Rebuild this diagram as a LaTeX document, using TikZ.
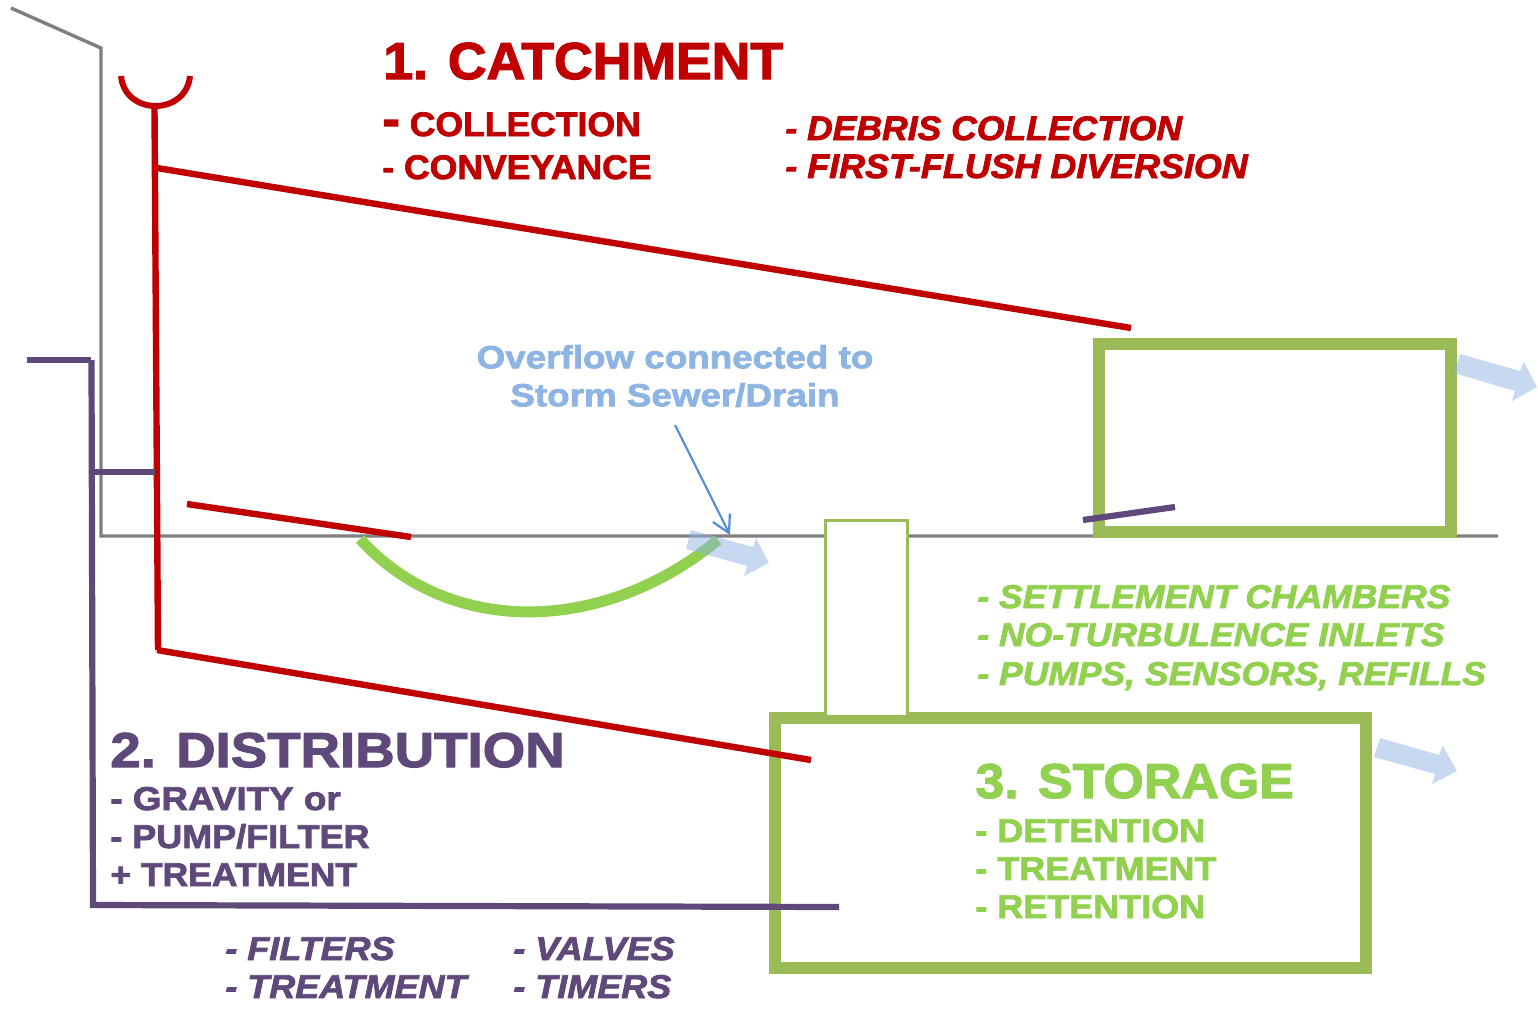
\documentclass[tikz,border=0pt]{standalone}
\usepackage{fontspec}
\usetikzlibrary{arrows.meta}
\setmainfont{Liberation Sans}
\newcommand\mkfam[2]{\newfontfamily#1{Liberation Sans}[BoldFeatures={FakeStretch=#2,FakeBold=2.3},BoldItalicFeatures={FakeStretch=#2,FakeBold=2.3}]}
\mkfam\FamA{1.03}
\mkfam\FamB{1.045}
\mkfam\FamC{1.055}
\mkfam\FamD{1.075}
\mkfam\FamE{1.09}
\mkfam\FamF{1.115}
\mkfam\FamG{1.15}
\mkfam\FamH{1.06}
\definecolor{cred}{HTML}{C00000}
\definecolor{cpurple}{HTML}{5F497A}
\definecolor{colive}{HTML}{9BBB59}
\definecolor{clime}{HTML}{92D050}
\definecolor{cblue}{HTML}{8DB4E2}
\definecolor{cline}{HTML}{558ED5}
\definecolor{cgrey}{HTML}{7F7F7F}
\tikzset{
 txt/.style n args={2}{anchor=base west,inner sep=0pt,font=#2\bfseries\fontsize{#1}{#1}\selectfont},
 itx/.style n args={2}{anchor=base west,inner sep=0pt,font=#2\bfseries\itshape\fontsize{#1}{#1}\selectfont},
 flow/.style={fill=cblue,fill opacity=0.5,draw=none},
 redline/.style={cred,line width=3.2pt},
 purpleline/.style={cpurple,line width=3.1pt},
 tankwall/.style={colive,line width=6pt},
}
\begin{document}
\begin{tikzpicture}[x=0.5pt,y=-0.5pt]
\useasboundingbox (0,0) rectangle (1538,1009);
% grey building + ground
\draw[cgrey,line width=1.7pt] (11,8) -- (101,48) -- (101,536) -- (1498,536);
% storage
\draw[tankwall] (1099,344) rectangle (1451,532);
\draw[tankwall] (775,717.5) rectangle (1365.5,968);
\draw[colive,line width=1.5pt,fill=white] (825,520) rectangle (907,716);
% green swale
\draw[clime,line width=5.5pt] (360,539) .. controls (448,636) and (601,636) .. (718,540);
% blue flow arrows
\fill[flow] (1460,354) -- (1520,371) -- (1524,362) -- (1537,387) -- (1512,401) -- (1515,391) -- (1454,373) -- cycle;
\fill[flow] (1380,738) -- (1439,755) -- (1443,746) -- (1457,771) -- (1432,784) -- (1435,774) -- (1374,757) -- cycle;
\fill[flow] (691,530) -- (753,547) -- (756,538) -- (769,563) -- (744,576) -- (747,566) -- (686,549) -- cycle;
% red
\draw[redline] (154.5,108) -- (158,650);
\draw[cred,line width=3pt] (121,76) .. controls (125,116) and (186,116) .. (190,76);
\draw[redline] (157,168) -- (1131,328);
\draw[redline] (187,504) -- (411,537);
\draw[redline] (157,650) -- (811,760);
% purple
\draw[purpleline] (27,360) -- (91,360);
\draw[purpleline] (91.5,360) -- (93,905) -- (839,907);
\draw[purpleline] (92,472) -- (155,472);
\draw[purpleline] (1083,520) -- (1175,507);
% callout
\coordinate (cs) at (675,425); \coordinate (ce) at (730,535);
\draw[cline,line width=1.1pt,-{Straight Barb[length=8.5pt,width=9.5pt]}] (cs) -- (ce);
% texts
\node[txt={26}{\FamA},cred] (t1) at (383,79) {1. CATCHMENT};
\node[txt={17}{\FamB},cred] (t2) at (382,136) {{\fontsize{25}{25}\selectfont -}\kern5pt COLLECTION};
\node[txt={17}{\FamB},cred] (t3) at (382,179) {- CONVEYANCE};
\node[itx={17}{\FamB},cred] (t4) at (785,140) {- DEBRIS COLLECTION};
\node[itx={17}{\FamC},cred] (t5) at (785,178) {- FIRST-FLUSH DIVERSION};
\node[txt={16}{\FamG},cblue,align=center,anchor=center] (t6) at (675,376) {Overflow connected to\\[3pt]Storm Sewer/Drain};
\node[itx={16.5}{\FamD},clime] (t7) at (977,608) {- SETTLEMENT CHAMBERS};
\node[itx={16.5}{\FamD},clime] (t8) at (977,646) {- NO-TURBULENCE INLETS};
\node[itx={16.5}{\FamD},clime] (t9) at (977,685) {- PUMPS, SENSORS, REFILLS};
\node[txt={24.5}{\FamF},cpurple] (t10) at (110,767) {2. DISTRIBUTION};
\node[txt={16.5}{\FamF},cpurple] (t11) at (110,810) {- GRAVITY or};
\node[txt={16.5}{\FamE},cpurple] (t12) at (110,848) {- PUMP/FILTER};
\node[txt={16.5}{\FamD},cpurple] (t13) at (110,886) {+ TREATMENT};
\node[txt={24.5}{\FamH},clime] (t14) at (975,798) {3. STORAGE};
\node[txt={16.5}{\FamE},clime] (t15) at (975,842) {- DETENTION};
\node[txt={16.5}{\FamE},clime] (t16) at (975,880) {- TREATMENT};
\node[txt={16.5}{\FamE},clime] (t17) at (975,918) {- RETENTION};
\node[itx={16.5}{\FamE},cpurple] (t18) at (225,960) {- FILTERS};
\node[itx={16.5}{\FamE},cpurple] (t19) at (225,998) {- TREATMENT};
\node[itx={16.5}{\FamE},cpurple] (t20) at (513,960) {- VALVES};
\node[itx={16.5}{\FamE},cpurple] (t21) at (513,998) {- TIMERS};
\end{tikzpicture}
\end{document}
